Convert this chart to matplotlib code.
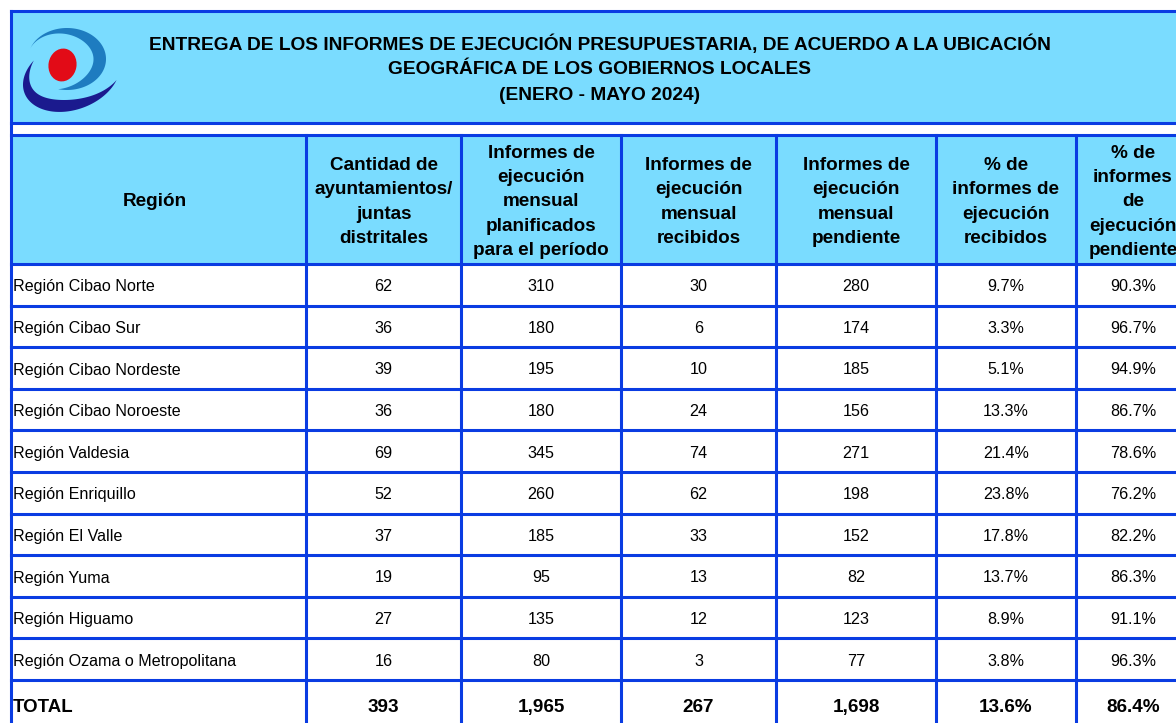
import numpy as np
import matplotlib
matplotlib.use('Agg')
from matplotlib import pyplot as plt
from matplotlib.patches import Rectangle, Polygon, Ellipse

plt.rcParams['font.family'] = ['Liberation Sans', 'DejaVu Sans']

# data
title = ['ENTREGA DE LOS INFORMES DE EJECUCIÓN PRESUPUESTARIA, DE ACUERDO A LA UBICACIÓN',
         'GEOGRÁFICA DE LOS GOBIERNOS LOCALES',
         '(ENERO - MAYO 2024)']
headers = ['Región',
           'Cantidad de\nayuntamientos/\njuntas\ndistritales',
           'Informes de\nejecución\nmensual\nplanificados\npara el período',
           'Informes de\nejecución\nmensual\nrecibidos',
           'Informes de\nejecución\nmensual\npendiente',
           '% de\ninformes de\nejecución\nrecibidos',
           '% de\ninformes\nde\nejecución\npendiente']
regions = ['Región Cibao Norte', 'Región Cibao Sur', 'Región Cibao Nordeste',
           'Región Cibao Noroeste', 'Región Valdesia', 'Región Enriquillo',
           'Región El Valle', 'Región Yuma', 'Región Higuamo',
           'Región Ozama o Metropolitana']
cantidad = [62, 36, 39, 36, 69, 52, 37, 19, 27, 16]
planificados = [310, 180, 195, 180, 345, 260, 185, 95, 135, 80]
recibidos = [30, 6, 10, 24, 74, 62, 33, 13, 12, 3]
pendiente = [280, 174, 185, 156, 271, 198, 152, 82, 123, 77]
pct_recibidos = [9.7, 3.3, 5.1, 13.3, 21.4, 23.8, 17.8, 13.7, 8.9, 3.8]
pct_pendiente = [90.3, 96.7, 94.9, 86.7, 78.6, 76.2, 82.2, 86.3, 91.1, 96.3]
total = ['TOTAL', '393', '1,965', '267', '1,698', '13.6%', '86.4%']

# layout (pixels)
W, H = 1176, 723
blue = '#0a3ce2'
cyan = '#7adcff'
lw = 2.2
col_x = [11, 306, 461, 621, 776, 936, 1076, 1190]
hdr_top, hdr_bot = 135, 264
row_h = 41.6

fig = plt.figure(figsize=(W/100, H/100), dpi=100)
ax = fig.add_axes([0, 0, 1, 1])
ax.set_xlim(0, W)
ax.set_ylim(H, 0)
ax.axis('off')

# title box
ax.add_patch(Rectangle((11, 11), W, 112, color=cyan, lw=0))
ax.add_patch(Rectangle((11, hdr_top), W, hdr_bot-hdr_top, color=cyan, lw=0))
for i, t in enumerate(title):
    ax.text(600, [50, 74, 100][i], t, ha='center', va='baseline',
            fontsize=13.8, fontweight='bold')

# logo
def crescent(cx, cy, rx, ry, t0, t1, thick, color, q=1.0, rot=0):
    t = np.radians(np.linspace(t0, t1, 200))
    s = np.linspace(0, 1, 200)
    w = thick*np.sin(np.pi*s**q)
    a = np.radians(rot)
    def tr(x, y):
        return cx + x*np.cos(a) - y*np.sin(a), cy + x*np.sin(a) + y*np.cos(a)
    ox, oy = tr(rx*np.cos(t), ry*np.sin(t))
    ix, iy = tr((rx-w)*np.cos(t), (ry-w)*np.sin(t))
    pts = np.column_stack([np.r_[ox, ix[::-1]], np.r_[oy, iy[::-1]]])
    ax.add_patch(Polygon(pts, closed=True, color=color, lw=0))

crescent(67, 59, 39, 31, 200, 463, 12.5, '#1e7cc0', q=1.36)
crescent(71.4, 75.7, 50, 34, 233, 35, 12.5, '#1b1a8e', q=1.0, rot=-20)
ax.add_patch(Ellipse((62.5, 65), 28, 33, angle=10, color='#e20b17', lw=0))

# header text
hx = [155] + [(col_x[i]+col_x[i+1])/2 for i in range(1, 7)]
for i, h in enumerate(headers):
    ax.text(hx[i], 202, h, ha='center', va='center', fontsize=13.6,
            fontweight='bold', linespacing=1.56)

# body
for r in range(len(regions)):
    yb = hdr_bot + row_h*(r+0.5) + 6.5
    vals = [cantidad[r], planificados[r], recibidos[r], pendiente[r],
            '%.1f%%' % pct_recibidos[r], '%.1f%%' % pct_pendiente[r]]
    ax.text(13, yb, regions[r], ha='left', va='baseline', fontsize=11.6)
    for j, v in enumerate(vals):
        ax.text(hx[j+1], yb, str(v), ha='center', va='baseline', fontsize=11.6)

ytot = 712
ax.text(13, ytot, total[0], ha='left', va='baseline', fontsize=13.4, fontweight='bold')
for j in range(1, 7):
    ax.text(hx[j], ytot, total[j], ha='center', va='baseline', fontsize=13.6,
            fontweight='bold')

# grid lines
ax.plot([11, W], [11, 11], color=blue, lw=lw, solid_capstyle='projecting')
for y in [123, hdr_top, hdr_bot]:
    ax.plot([11, W], [y, y], color=blue, lw=lw)
for r in range(1, 11):
    y = hdr_bot + row_h*r
    ax.plot([11, W], [y, y], color=blue, lw=lw)
ax.plot([11, 11], [11, H], color=blue, lw=lw, solid_capstyle='projecting')
for x in col_x[1:7]:
    ax.plot([x, x], [hdr_top, H], color=blue, lw=lw)

fig.savefig('out.png', dpi=100)
